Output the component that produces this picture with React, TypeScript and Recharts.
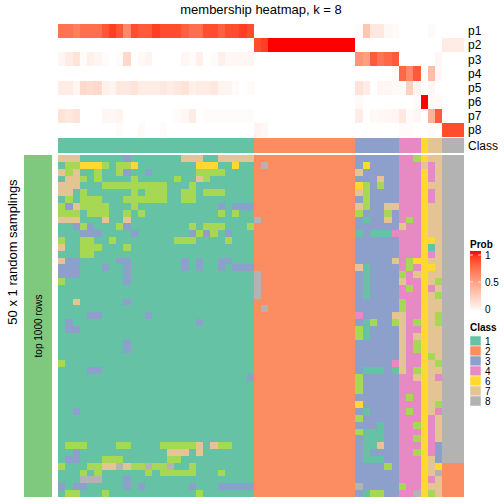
import { ScatterChart, Scatter, XAxis, YAxis } from 'recharts';

const W = 504;
const H = 504;
const LEFT = 58;
const RIGHT = 40;
const LABEL_W = 36;
const FONT = '"Liberation Sans", Arial, Helvetica, sans-serif';

const classColors: Record<string, string> = {
  '1': '#66C2A5',
  '2': '#FC8D62',
  '3': '#8DA0CB',
  '4': '#E78AC3',
  '5': '#A6D854',
  '6': '#FFD92F',
  '7': '#E5C494',
  '8': '#B3B3B3',
};
const legendClasses = ['1', '2', '3', '4', '6', '7', '8'];
const probLabels = ['p1', 'p2', 'p3', 'p4', 'p5', 'p6', 'p7', 'p8'];
const probTicks = ['1', '0.5', '0'];

// class of each column (56 columns)
const columnClass =
  '111111111111111111111111111 22222222222222 333333 444 6 77 888'.replace(/ /g, '').split('');

// membership probabilities per column
const p1 = [0.7, 0.7, 0.65, 0.72, 0.72, 0.72, 0.82, 0.9, 0.82, 0.6, 0.85, 0.8, 0.8, 0.9, 0.85, 0.85, 0.85, 0.78, 0.72, 0.72, 0.85, 0.85, 0.78, 0.85, 0.85, 0.9, 0.85,
  0, 0, 0, 0, 0, 0, 0, 0, 0, 0, 0, 0, 0, 0,
  0.02, 0.3, 0.12, 0.12, 0.04, 0.03, 0, 0, 0, 0, 0.03, 0, 0, 0, 0];
const p2 = [0, 0, 0, 0, 0, 0, 0, 0, 0, 0, 0, 0, 0, 0, 0, 0, 0, 0, 0, 0, 0, 0, 0, 0, 0, 0, 0,
  0.85, 0.9, 1, 1, 1, 1, 1, 1, 1, 1, 1, 1, 1, 1,
  0, 0, 0, 0, 0, 0, 0, 0, 0, 0, 0, 0, 0.1, 0.1, 0.1];
const p3 = [0.05, 0.1, 0.15, 0.02, 0.08, 0.05, 0.02, 0, 0.02, 0.2, 0, 0.03, 0.06, 0, 0, 0, 0, 0.04, 0.02, 0.08, 0, 0.02, 0.08, 0.04, 0.04, 0.04, 0.05,
  0, 0, 0, 0, 0, 0, 0, 0, 0, 0, 0, 0, 0, 0,
  0.55, 0.5, 0.8, 0.7, 0.75, 0.8, 0, 0, 0, 0, 0, 0.04, 0, 0, 0];
const p4 = [0, 0, 0, 0, 0, 0, 0, 0, 0, 0, 0, 0, 0, 0, 0, 0, 0, 0, 0, 0, 0, 0, 0, 0, 0, 0, 0,
  0, 0, 0, 0, 0, 0, 0, 0, 0, 0, 0, 0, 0, 0,
  0, 0, 0, 0, 0, 0.03, 0.75, 0.6, 0.8, 0, 0.35, 0.04, 0, 0, 0];
const p5 = [0.1, 0.1, 0.05, 0.2, 0.18, 0.2, 0.08, 0.05, 0.12, 0.12, 0.15, 0.1, 0.1, 0.1, 0.12, 0.1, 0.12, 0.15, 0.08, 0.1, 0.1, 0.12, 0.06, 0.06, 0.02, 0, 0.03,
  0, 0, 0, 0, 0, 0, 0, 0, 0, 0, 0, 0, 0, 0,
  0.15, 0.1, 0, 0.05, 0.05, 0.03, 0.03, 0.25, 0.06, 0, 0.04, 0, 0, 0, 0];
const p6 = [0, 0, 0, 0, 0, 0, 0, 0, 0, 0, 0, 0, 0, 0, 0, 0, 0, 0, 0, 0, 0, 0, 0, 0, 0, 0, 0,
  0, 0, 0, 0, 0, 0, 0, 0, 0, 0, 0, 0, 0, 0,
  0.03, 0, 0, 0, 0, 0, 0, 0, 0.02, 1, 0.03, 0.03, 0, 0, 0];
const p7 = [0.15, 0.12, 0.15, 0, 0, 0, 0.05, 0.04, 0.06, 0, 0, 0, 0, 0, 0, 0, 0.02, 0.04, 0.1, 0, 0.02, 0.02, 0.02, 0.02, 0.02, 0.02, 0.02,
  0, 0, 0, 0, 0, 0, 0, 0, 0, 0, 0, 0, 0, 0,
  0.1, 0, 0.03, 0.04, 0.04, 0.05, 0.12, 0.02, 0.04, 0, 0.4, 0.8, 0, 0, 0];
const p8 = [0, 0, 0, 0, 0, 0, 0, 0, 0.02, 0, 0, 0.03, 0, 0, 0.02, 0, 0, 0, 0, 0, 0, 0, 0, 0, 0, 0, 0,
  0.06, 0.04, 0, 0, 0, 0, 0, 0, 0, 0, 0, 0, 0, 0,
  0, 0, 0, 0, 0, 0, 0.02, 0.02, 0, 0, 0.02, 0, 0.85, 0.85, 0.85];

// 50 random samplings, class label of each column (spaces / bars only for reading)
const samplings = [
  '777 111111 3 1111111 777 11 77777 | 22222222222222 | 333333 | 445 | 6 | 77 | 888',
  '1 55 666 5 1 55 6 11111111 666 11 6 11 | 28222222222222 | 363333 | 444 | 7 | 47 | 888',
  '7 5 7 11 5 11 5 3 11 3 111111 5555 1111 | 22222222222222 | 733333 | 444 | 6 | 47 | 888',
  '1 77 5 1 5 1111 5 11111 5 11 7 5 111111 | 22222222222222 | 333733 | 444 | 6 | 47 | 888',
  '777 111 555555555 111 5 11111111 | 22222222222222 | 653533 | 444 | 6 | 77 | 888',
  '77 1 5 111111 5 1 555 11 55 1 555 1111 | 22222222222222 | 753333 | 444 | 6 | 47 | 888',
  '1 5 1 555 111 555555 11 55 11111111 | 22222222222222 | 353333 | 444 | 6 | 47 | 888',
  '5 3 7 5555 111 5 11111111111 3 1 333 | 22222222222222 | 753377 | 444 | 6 | 77 | 888',
  '555 1 555 11 5 1 5 1111111111 5 1 5 11 | 22222222222222 | 533353 | 444 | 6 | 77 | 888',
  '777 111 7 11 7 11111 11111 11111 11 | 82222222222222 | 313373 | 454 | 6 | 77 | 888',
  '11 3 5 3 111 5 3 11111111 5 1 555 111 5 | 22222222222222 | 333333 | 744 | 6 | 77 | 888',
  '111 333 1111 3 1111111 3 5 3 5 1 3 111 | 22222222222222 | 131114 | 444 | 6 | 77 | 888',
  '5 11 55 11 5 11111111 555 1111 5 111 | 22222222222222 | 333333 | 444 | 6 | 67 | 888',
  '7 11 555 111 5 11111 11111 11111 11 | 22222222222222 | 333333 | 444 | 6 | 17 | 888',
  '111 55 11111 11111 11111 11111 11 | 22222222222222 | 333333 | 444 | 6 | 47 | 888',
  '7 33 11111 33 1111111 3 1 3 11 33 111 | 22222222222222 | 333337 | 456 | 6 | 77 | 888',
  '333 111 3 11 3 1111111 3 1 3 11 3 1 333 | 22222222222222 | 713333 | 454 | 6 | 67 | 888',
  '333 111111 3 11111 11111 11111 11 | 82222222222222 | 313333 | 547 | 6 | 77 | 888',
  '5 11111111 3 11111 11111 11111 11 | 82222222222222 | 313333 | 744 | 6 | 75 | 888',
  '11111 11111 11111 11111 11111 11 | 82222222222222 | 313333 | 454 | 6 | 47 | 888',
  '11111 11111 11111 11111 11111 11 | 82222222222222 | 313333 | 444 | 6 | 75 | 888',
  '11 7 111111 3 11111 11111 11111 11 | 22222222222222 | 333333 | 544 | 6 | 77 | 888',
  '11111 11111 11111 11111 11111 11 | 28222222222222 | 333333 | 544 | 6 | 77 | 888',
  '1111 33 111111 3 11111 11111 1111 | 22222222222222 | 433337 | 744 | 6 | 75 | 888',
  '1 3 11111 11111 11111 11 3 11111 11 | 22222222222222 | 315335 | 745 | 6 | 75 | 888',
  '1 33 11111 11111 11111 11111 1111 | 22222222222222 | 513333 | 744 | 6 | 77 | 888',
  '11111 11111 11111 11111 11111 11 | 22222222222222 | 513333 | 747 | 6 | 77 | 888',
  '11111 1111 3 11111 11111 11111 11 | 22222222222222 | 333333 | 745 | 6 | 77 | 888',
  '11111 1111 3 11111 11111 11111 11 | 22222222222222 | 333333 | 745 | 6 | 77 | 888',
  '11111 11111 11111 11111 11111 11 | 22222222222222 | 333333 | 744 | 6 | 57 | 888',
  '5 11111 11111 11111 11111 11111 1 | 22222222222222 | 333334 | 744 | 6 | 75 | 888',
  '1111 33 11111 11111 11111 11111 1 | 22222222222222 | 311131 | 745 | 6 | 77 | 888',
  '11111 11111 11111 11111 11111 1 3 | 22222222222222 | 533333 | 447 | 6 | 74 | 888',
  '11111 11111 11111 11111 11111 11 | 22222222222222 | 533333 | 444 | 6 | 77 | 888',
  '11111 11111 11111 11111 11111 11 | 22222222222222 | 533333 | 444 | 6 | 77 | 888',
  '11111 11111 11111 11111 11111 11 | 22222222222222 | 333333 | 454 | 6 | 77 | 888',
  '11111 11111 11111 11111 11111 11 | 22222222222222 | 633333 | 444 | 6 | 75 | 888',
  '11 3 11111 11111 11111 11111 1111 | 22222222222222 | 313333 | 454 | 6 | 74 | 888',
  '11111 11111 11111 11111 11111 11 | 22222222222222 | 533333 | 444 | 6 | 47 | 888',
  '11111 11111 11111 11111 11111 11 | 22222222222222 | 333133 | 445 | 6 | 47 | 888',
  '11111 11111 11111 11111 11111 11 | 22222222222222 | 511133 | 444 | 6 | 47 | 888',
  '11111 11111 11111 11111 11111 11 | 22222222222222 | 311133 | 445 | 6 | 47 | 888',
  '1 555 1111 55 1111 55555 7 1 7 55 111 | 22222222222222 | 311733 | 444 | 6 | 43 | 888',
  '11 3 11111 11111 11 777 1 7 11111 11 | 22222222222222 | 313333 | 445 | 6 | 43 | 888',
  '1 33 111 555 111111 55 11111 11111 | 22222222222222 | 311133 | 444 | 6 | 73 | 888',
  '5 111 55 77 8 7 55 8 55 8 11 5 11111111 | 22222222222222 | 333353 | 444 | 6 | 76 | 222',
  '111 5 1 5 111111 5 1 55555 111 5 1111 | 22222222222222 | 333333 | 444 | 6 | 78 | 222',
  '111 888 111 3 11111 11111 11111 11 | 22222222222222 | 333333 | 444 | 6 | 47 | 222',
  '3 1 33 11111 3 1 3 111111 3 111 33333 | 22222222222222 | 833333 | 544 | 6 | 77 | 222',
  '1 55 111 5 11111 11111 11 5 11111 11 | 22222222222222 | 315533 | 448 | 6 | 57 | 222',
];

// white -> red in LAB space, like colorRamp2
function probColor(v: number) {
  const L = 100 + (53.24 - 100) * v;
  const A = 80.09 * v;
  const B = 67.2 * v;
  const fy = (L + 16) / 116;
  const fx = fy + A / 500;
  const fz = fy - B / 200;
  const inv = (t: number) => (t > 6 / 29 ? t * t * t : 3 * (6 / 29) * (6 / 29) * (t - 4 / 29));
  const X = 0.95047 * inv(fx);
  const Y = inv(fy);
  const Z = 1.08883 * inv(fz);
  const lin = [
    3.2406 * X - 1.5372 * Y - 0.4986 * Z,
    -0.9689 * X + 1.8758 * Y + 0.0415 * Z,
    0.0557 * X - 0.204 * Y + 1.057 * Z,
  ];
  const rgb = lin.map((c) => {
    const g = c <= 0.0031308 ? 12.92 * c : 1.055 * Math.pow(c, 1 / 2.4) - 0.055;
    return Math.round(Math.min(1, Math.max(0, g)) * 255);
  });
  return `rgb(${rgb[0]},${rgb[1]},${rgb[2]})`;
}

const NCOL = columnClass.length;
const probRows = [p1, p2, p3, p4, p5, p6, p7, p8];
const probData = probRows.flatMap((row, r) => row.map((v, c) => ({ x: c, y: r, fill: probColor(v) })));
const classData = columnClass.map((k, c) => ({ x: c, y: 0, fill: classColors[k] }));
const sampleData = samplings.flatMap((s, r) =>
  s.replace(/[ |]/g, '').split('').map((k, c) => ({ x: c, y: r, fill: classColors[k] }))
);

interface BlockProps {
  data: Array<{ x: number; y: number; fill: string }>;
  rows: number;
  top: number;
  bottom: number;
  labels?: string[];
}

function HeatBlock({ data, rows, top, bottom, labels }: BlockProps) {
  const cellW = (W - LEFT - RIGHT) / NCOL;
  const cellH = (H - top - bottom) / rows;
  const cell = (props: any) => {
    const { cx, cy, payload } = props;
    return (
      <rect
        x={cx - cellW / 2}
        y={cy - cellH / 2}
        width={cellW + 0.4}
        height={cellH + 0.4}
        fill={payload.fill}
        shapeRendering="crispEdges"
      />
    );
  };
  return (
    <div style={{ position: 'absolute', left: 0, top: 0 }}>
      <ScatterChart
        width={W}
        height={H}
        margin={{ top, bottom, left: LEFT, right: labels ? RIGHT - LABEL_W : RIGHT }}
      >
        <XAxis type="number" dataKey="x" domain={[-0.5, NCOL - 0.5]} hide />
        {labels ? (
          <YAxis
            type="number"
            dataKey="y"
            orientation="right"
            width={LABEL_W}
            domain={[-0.5, rows - 0.5]}
            reversed
            ticks={labels.map((_, i) => i)}
            interval={0}
            tickFormatter={(i: number) => labels[i]}
            axisLine={false}
            tickLine={false}
            tickSize={2}
            tickMargin={2}
            tick={{ fill: '#000', fontSize: 12, fontFamily: FONT, textAnchor: 'start' }}
          />
        ) : (
          <YAxis type="number" dataKey="y" domain={[-0.5, rows - 0.5]} reversed hide />
        )}
        <Scatter data={data} isAnimationActive={false} shape={cell} />
      </ScatterChart>
    </div>
  );
}

export default function App() {
  const gradStops = [0, 0.1, 0.2, 0.3, 0.4, 0.5, 0.6, 0.7, 0.8, 0.9, 1];
  return (
    <div style={{ position: 'absolute', left: 0, top: 0, width: W, height: H, background: '#fff', fontFamily: FONT }}>
      <HeatBlock data={probData} rows={8} top={24} bottom={H - 137} labels={probLabels} />
      <HeatBlock data={classData} rows={1} top={138} bottom={H - 152.7} labels={['Class']} />
      <HeatBlock data={sampleData} rows={samplings.length} top={155} bottom={H - 497} />
      <svg width={W} height={H} style={{ position: 'absolute', left: 0, top: 0 }} fontFamily={FONT}>
        <defs>
          <linearGradient id="probGrad" x1="0" y1="1" x2="0" y2="0">
            {gradStops.map((s) => (
              <stop key={s} offset={s} stopColor={probColor(s)} />
            ))}
          </linearGradient>
        </defs>
        <text x={261} y={14} fontSize={13} textAnchor="middle" fill="#000">
          membership heatmap, k = 8
        </text>
        <text transform="translate(16.5,252) rotate(-90)" fontSize={13} textAnchor="middle" fill="#000">
          50 x 1 random samplings
        </text>
        <rect x={24} y={155} width={28} height={342} fill="#7FC97F" />
        <text transform="translate(42,326) rotate(-90)" fontSize={10} textAnchor="middle" fill="#000">
          top 1000 rows
        </text>

        <text x={470} y={248} fontSize={10} fontWeight="bold" fill="#000">Prob</text>
        <rect x={470} y={251} width={11} height={61} fill="url(#probGrad)" />
        {probTicks.map((t, i) => {
          const y = 255 + i * 27;
          return (
            <g key={t}>
              <line x1={470} x2={473} y1={y} y2={y} stroke="#fff" strokeWidth={0.8} />
              <line x1={478} x2={481} y1={y} y2={y} stroke="#fff" strokeWidth={0.8} />
              <text x={485} y={y + 4} fontSize={10} fill="#000">{t}</text>
            </g>
          );
        })}

        <text x={470} y={331} fontSize={10} fontWeight="bold" fill="#000">Class</text>
        {legendClasses.map((k, i) => (
          <g key={k}>
            <rect x={470} y={336 + i * 10} width={11} height={10} fill={classColors[k]} stroke="#fff" strokeWidth={0.5} />
            <text x={485} y={344.5 + i * 10} fontSize={10} fill="#000">{k}</text>
          </g>
        ))}
      </svg>
    </div>
  );
}
